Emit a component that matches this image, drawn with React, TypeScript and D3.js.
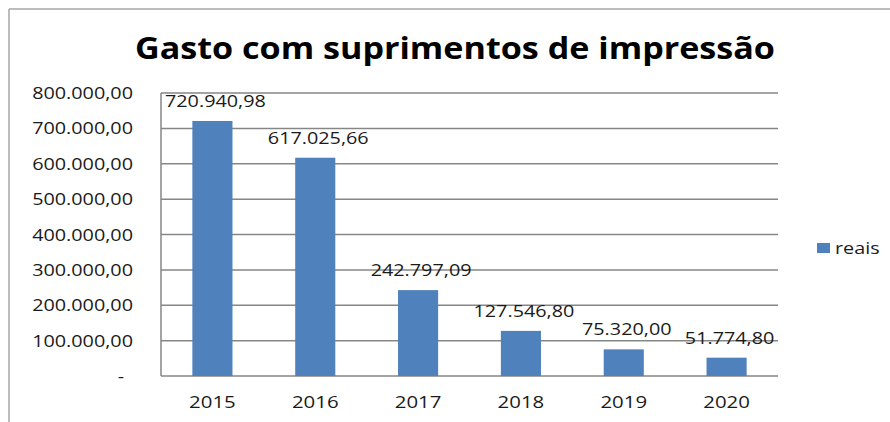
import React from "react";
import * as d3 from "d3";

const years = ["2015", "2016", "2017", "2018", "2019", "2020"];
const reais = [720940.98, 617025.66, 242797.09, 127546.8, 75320.0, 51774.8];
const yTicks = [0, 100000, 200000, 300000, 400000, 500000, 600000, 700000, 800000];
const seriesName = "reais";
const title = "Gasto com suprimentos de impressão";

const W = 890;
const H = 422;
const SX = 1.2;
const FONT = "'Open Sans', sans-serif";
const BAR = "#4F81BD";
const GRID = "#868686";
const TXT = "#1a1a1a";

const loc = d3.formatLocale({ decimal: ",", thousands: ".", grouping: [3], currency: ["R$", ""] });
const fmt = loc.format(",.2f");
const fmtVal = (v: number) => (v === 0 ? "-" : fmt(v));

function T(props: { x: number; y: number; anchor?: string; size: number; weight?: number; children: React.ReactNode; sx?: number }) {
  const { x, y, anchor = "start", size, weight = 400, children, sx = SX } = props;
  return (
    <text
      transform={`translate(${x},${y}) scale(${sx},1)`}
      textAnchor={anchor}
      fontFamily={FONT}
      fontSize={size}
      fontWeight={weight}
      fill={TXT}
    >
      {children}
    </text>
  );
}

export default function App() {
  const left = 161, right = 778, top = 93, bottom = 376;
  const x = d3.scaleBand<string>().domain(years).range([left, right]).paddingInner(0.61).paddingOuter(0.305);
  const y = d3.scaleLinear().domain([0, 800000]).range([bottom, top]);

  return (
    <svg width={W} height={H} style={{ position: "absolute", left: 0, top: 0, background: "#fff" }}>
      <rect x={0} y={0} width={W} height={H} fill="#fff" />
      {/* outer frame */}
      <line x1={9} y1={9} x2={W} y2={9} stroke="#a6a6a6" strokeWidth={1.5} />
      <line x1={9} y1={9} x2={9} y2={H} stroke="#a6a6a6" strokeWidth={1.5} />

      <text
        x={455}
        y={59}
        textAnchor="middle"
        fontFamily={FONT}
        fontSize={31}
        fontWeight={700}
        fill="#000"
        textLength={640}
        lengthAdjust="spacingAndGlyphs"
      >
        {title}
      </text>

      {/* gridlines */}
      {yTicks.map((t) => (
        <line key={t} x1={left} x2={right} y1={y(t)} y2={y(t)} stroke={GRID} strokeWidth={1.5} />
      ))}
      <line x1={left} x2={left} y1={top} y2={bottom} stroke={GRID} strokeWidth={1.5} />

      {/* y tick labels */}
      {yTicks.map((t) =>
        t === 0 ? (
          <T key={t} x={121} y={y(t) + 6} anchor="middle" size={16.5}>-</T>
        ) : (
          <T key={t} x={133} y={y(t) + 6} anchor="end" size={16.5}>{fmtVal(t)}</T>
        )
      )}

      {/* bars */}
      {years.map((yr, i) => (
        <rect key={yr} x={x(yr)} y={y(reais[i])} width={x.bandwidth()} height={bottom - y(reais[i])} fill={BAR} />
      ))}

      {/* data labels */}
      {years.map((yr, i) => (
        <T key={yr} x={(x(yr) as number) + x.bandwidth() / 2 + 3} y={y(reais[i]) - 14} anchor="middle" size={16.5}>
          {fmtVal(reais[i])}
        </T>
      ))}

      {/* x labels */}
      {years.map((yr) => (
        <T key={yr} x={(x(yr) as number) + x.bandwidth() / 2} y={408} anchor="middle" size={17}>
          {yr}
        </T>
      ))}

      {/* legend */}
      <rect x={817} y={243} width={13} height={10} fill={BAR} />
      <T x={835} y={254} size={16.5}>{seriesName}</T>
    </svg>
  );
}
